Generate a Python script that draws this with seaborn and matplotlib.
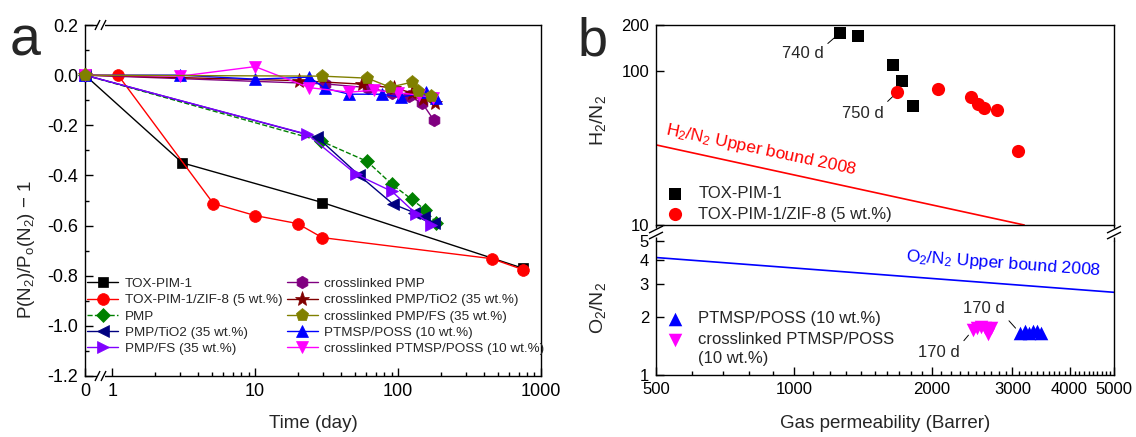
import numpy as np
import pandas as pd
import matplotlib
matplotlib.use("Agg")
import matplotlib.pyplot as plt
import seaborn as sns
from matplotlib.lines import Line2D
from matplotlib.ticker import FixedLocator, FixedFormatter, NullLocator, NullFormatter

# ---------------- data: panel a (normalised N2 permeability vs time) ----------------
t_tox = [0, 3.1, 29.5, 745]
v_tox = [0, -0.35, -0.508, -0.77]
t_zif = [1.1, 5.1, 10, 19.8, 29.5, 452, 750]
v_zif = [0, -0.512, -0.56, -0.592, -0.648, -0.732, -0.776]
t_pmp = [0, 28.9, 60.8, 90.8, 125, 154, 184]
v_pmp = [0, -0.263, -0.344, -0.436, -0.496, -0.536, -0.588]
t_pmp_tio2 = [0, 27.3, 53.5, 92, 129, 152, 178]
v_pmp_tio2 = [0, -0.248, -0.40, -0.514, -0.548, -0.566, -0.588]
t_pmp_fs = [0, 23.2, 51, 90.8, 133, 170]
v_pmp_fs = [0, -0.236, -0.396, -0.464, -0.552, -0.596]
t_xpmp = [0, 31, 62, 90, 119, 147, 178]
v_xpmp = [0, -0.035, -0.05, -0.07, -0.085, -0.11, -0.18]
t_xpmp_tio2 = [0, 20.4, 56, 94, 125, 150, 180]
v_xpmp_tio2 = [0, -0.022, -0.036, -0.052, -0.07, -0.095, -0.11]
t_xpmp_fs = [0, 29.5, 61, 88, 125, 137, 171]
v_xpmp_fs = [0, -0.004, -0.012, -0.048, -0.028, -0.064, -0.084]
t_ptmsp = [0, 3, 10, 24, 30.6, 45.6, 77, 105, 157, 184]
v_ptmsp = [0, 0.0, -0.016, -0.008, -0.052, -0.076, -0.076, -0.088, -0.068, -0.092]
t_xptmsp = [0, 3, 10, 24, 45.6, 68, 100, 140, 175]
v_xptmsp = [0, -0.004, 0.034, -0.05, -0.068, -0.06, -0.07, -0.08, -0.09]

labels_a = ["TOX-PIM-1", "TOX-PIM-1/ZIF-8 (5 wt.%)", "PMP", "PMP/TiO2 (35 wt.%)",
            "PMP/FS (35 wt.%)", "crosslinked PMP", "crosslinked PMP/TiO2 (35 wt.%)",
            "crosslinked PMP/FS (35 wt.%)", "PTMSP/POSS (10 wt.%)",
            "crosslinked PTMSP/POSS (10 wt.%)"]
x_ticks_a = [0, 1, 10, 100, 1000]
x_ticklabels_a = ["0", "1", "10", "100", "1000"]

# ---------------- data: panel b (selectivity vs permeability) ----------------
p_tox = [1259, 1377, 1650, 1726, 1824]
s_tox = [177, 170, 110, 86.5, 59.5]
p_zif = [1683, 2068, 2438, 2528, 2604, 2780, 3090]
s_zif = [73.3, 76.7, 68, 61.3, 57.7, 56, 30.3]
p_ptmsp = [3120, 3190, 3260, 3330, 3400, 3460]
s_ptmsp = [1.65, 1.69, 1.66, 1.70, 1.69, 1.66]
p_xptmsp = [2460, 2510, 2560, 2610, 2650, 2700]
s_xptmsp = [1.72, 1.76, 1.77, 1.76, 1.63, 1.76]
ub_h2_p = [500, 3184]
ub_h2_s = [33.2, 10]
ub_o2_p = [500, 5000]
ub_o2_s = [4.1, 2.7]
labels_b = ["TOX-PIM-1", "TOX-PIM-1/ZIF-8 (5 wt.%)", "PTMSP/POSS (10 wt.%)",
            "crosslinked PTMSP/POSS"]
x_ticks_b = [500, 1000, 2000, 3000, 4000, 5000]

# ---------------- style ----------------
sns.set_theme(style="white")
plt.rcParams["font.family"] = ["Liberation Sans", "DejaVu Sans"]
plt.rcParams["mathtext.fontset"] = "custom"
plt.rcParams["mathtext.rm"] = "Liberation Sans"
plt.rcParams["mathtext.it"] = "Liberation Sans:italic"
plt.rcParams["axes.unicode_minus"] = False
plt.rcParams["axes.edgecolor"] = "black"
plt.rcParams["axes.linewidth"] = 1.0

W, H = 1136, 437
fig = plt.figure(figsize=(W / 100, H / 100), dpi=100)


def rect(l, t, r, b):
    return [l / W, 1 - b / H, (r - l) / W, (b - t) / H]


def fline(x1, y1, x2, y2, color="black", lw=1.0):
    fig.add_artist(Line2D([x1 / W, x2 / W], [1 - y1 / H, 1 - y2 / H],
                          transform=fig.transFigure, color=color, lw=lw,
                          solid_capstyle="butt"))


axa = fig.add_axes(rect(85, 25, 541, 376))
axu = fig.add_axes(rect(656, 25, 1114, 225))
axl = fig.add_axes(rect(656, 241, 1114, 375))

# ---------------- panel a ----------------
G = 0.19


def fwd(t):
    t = np.asarray(t, dtype=float)
    return np.where(t >= 1, np.log10(np.maximum(t, 1)), (t - 1) * G)


def inv(y):
    y = np.asarray(y, dtype=float)
    return np.where(y >= 0, 10 ** np.maximum(y, 0), y / G + 1)


axa.set_xscale("function", functions=(fwd, inv))

series_a = [
    (t_tox, v_tox, "#000000", "s", 7.5, "-", 2),
    (t_zif, v_zif, "#FF0000", "o", 8.5, "-", 2),
    (t_pmp, v_pmp, "#008000", "D", 7, "--", 2),
    (t_pmp_tio2, v_pmp_tio2, "#000080", "<", 9, "-", 2),
    (t_pmp_fs, v_pmp_fs, "#8000FF", ">", 9, "-", 2),
    (t_xpmp, v_xpmp, "#800080", "h", 9, "-", 2),
    (t_xpmp_tio2, v_xpmp_tio2, "#800000", "*", 11, "-", 2),
    (t_xpmp_fs, v_xpmp_fs, "#808000", "p", 9.5, "-", 4),
    (t_ptmsp, v_ptmsp, "#0000FF", "^", 8.5, "-", 3),
    (t_xptmsp, v_xptmsp, "#FF00FF", "v", 9, "-", 3),
]
for (t, v, c, m, ms, ls, z), lab in zip(series_a, labels_a):
    sns.lineplot(x=t, y=v, ax=axa, color=c, marker=m, markersize=ms,
                 markeredgecolor=c, markeredgewidth=0.5, linestyle=ls, lw=1.0,
                 sort=False, estimator=None, label=lab, zorder=z, clip_on=False)

axa.set_xlim(0, 1000)
axa.set_ylim(-1.2, 0.2)
axa.xaxis.set_major_locator(FixedLocator(x_ticks_a))
axa.xaxis.set_major_formatter(FixedFormatter(x_ticklabels_a))
minor_a = [k * 10 ** e for e in range(0, 3) for k in range(2, 10)]
axa.xaxis.set_minor_locator(FixedLocator(minor_a))
axa.xaxis.set_minor_formatter(NullFormatter())
yt = np.round(np.arange(-1.2, 0.21, 0.2), 1)
axa.yaxis.set_major_locator(FixedLocator(yt))
axa.yaxis.set_major_formatter(FixedFormatter([f"{y:.1f}" if y != 0 else "0.0" for y in yt]))
axa.yaxis.set_minor_locator(FixedLocator(np.round(np.arange(-1.1, 0.2, 0.2), 1)))
axa.tick_params(which="both", direction="in", top=False, right=False,
                left=True, bottom=True, width=1, colors="black")
axa.tick_params(which="major", length=6, labelsize=13, pad=5)
axa.tick_params(which="minor", length=3)
for s in axa.spines.values():
    s.set_linewidth(1.0)
    s.set_color("black")

axa.set_xlabel("Time (day)", fontsize=13.5)
axa.xaxis.set_label_coords(0.5, -0.11)
axa.set_ylabel(r"P(N$_2$)/P$_\mathregular{o}$(N$_2$) $-$ 1", fontsize=13.5)
axa.yaxis.set_label_coords(-0.105, 0.36)

leg = axa.legend(loc="upper left", bbox_to_anchor=(0.005, 0.28), ncol=2,
                 frameon=False, fontsize=9.7, handlelength=2.3, handletextpad=0.5,
                 columnspacing=0.3, labelspacing=0.28, borderaxespad=0, borderpad=0)

# break marks panel a (x axis between 0 and 1)
for yy in (25, 376):
    fline(97, yy, 105, yy, color="white", lw=3)
    for xx in (97.5, 103.5):
        fline(xx - 2.5, yy + 5, xx + 2.5, yy - 5, lw=1.0)

# ---------------- panel b ----------------
for ax in (axu, axl):
    ax.set_xscale("log")
    ax.set_yscale("log")
    ax.set_xlim(500, 5000)

sns.lineplot(x=ub_h2_p, y=ub_h2_s, ax=axu, color="#FF0000", lw=1.2,
             sort=False, estimator=None, legend=False)
sns.scatterplot(x=p_tox, y=s_tox, ax=axu, marker="s", color="black", s=70,
                linewidth=0, label=labels_b[0], zorder=3)
sns.scatterplot(x=p_zif, y=s_zif, ax=axu, marker="o", color="#FF0000", s=90,
                linewidth=0, label=labels_b[1], zorder=3)
axu.set_ylim(10, 200)

sns.lineplot(x=ub_o2_p, y=ub_o2_s, ax=axl, color="#0000FF", lw=1.2,
             sort=False, estimator=None, legend=False)
sns.scatterplot(x=p_ptmsp, y=s_ptmsp, ax=axl, marker="^", color="#0000FF", s=95,
                linewidth=0, label=labels_b[2], zorder=3)
sns.scatterplot(x=p_xptmsp, y=s_xptmsp, ax=axl, marker="v", color="#FF00FF", s=95,
                linewidth=0, label=labels_b[3], zorder=3)
axl.set_ylim(1, 5)

# ticks
axu.yaxis.set_major_locator(FixedLocator([10, 100, 200]))
axu.yaxis.set_major_formatter(FixedFormatter(["10", "100", "200"]))
axu.yaxis.set_minor_locator(NullLocator())
axu.xaxis.set_major_locator(NullLocator())
axu.xaxis.set_minor_locator(NullLocator())
axl.yaxis.set_major_locator(FixedLocator([1, 2, 3, 4, 5]))
axl.yaxis.set_major_formatter(FixedFormatter(["1", "2", "3", "4", "5"]))
axl.yaxis.set_minor_locator(NullLocator())
axl.xaxis.set_major_locator(FixedLocator(x_ticks_b))
axl.xaxis.set_major_formatter(FixedFormatter([str(v) for v in x_ticks_b]))
minor_b = [v for v in range(600, 5000, 100) if v not in x_ticks_b]
axl.xaxis.set_minor_locator(FixedLocator(minor_b))
axl.xaxis.set_minor_formatter(NullFormatter())
for ax in (axu, axl):
    ax.tick_params(which="both", direction="in", top=False, right=False,
                   left=True, bottom=True, width=1, colors="black")
    ax.tick_params(which="major", length=6, labelsize=12, pad=5)
    ax.tick_params(which="minor", length=3)
    for s in ax.spines.values():
        s.set_linewidth(1.0)
        s.set_color("black")
axu.tick_params(bottom=False, labelbottom=False)
axl.spines["top"].set_visible(False)

axu.set_ylabel(r"H$_2$/N$_2$", fontsize=14)
axu.yaxis.set_label_coords(-0.105, 0.52)
axl.set_ylabel(r"O$_2$/N$_2$", fontsize=14)
axl.yaxis.set_label_coords(-0.105, 0.5)
axl.set_xlabel("Gas permeability (Barrer)", fontsize=13.5)
axl.xaxis.set_label_coords(0.5, -0.3)

axu.legend(loc="upper left", bbox_to_anchor=(0.02, 0.195), frameon=False,
           fontsize=12, handlelength=1.2, handletextpad=0.8, borderaxespad=0,
           borderpad=0, labelspacing=0.33)
axl.legend(loc="upper left", bbox_to_anchor=(0.02, 0.478), frameon=False,
           fontsize=12, handlelength=1.2, handletextpad=0.8, borderaxespad=0,
           borderpad=0, labelspacing=0.36)
fig.text(698 / W, 1 - 358 / H, "(10 wt.%)", fontsize=12, va="center", ha="left")

axu.text(847, 30.8, r"H$_2$/N$_2$ Upper bound 2008", color="#FF0000", fontsize=12.5,
         rotation=-12, rotation_mode="anchor", ha="center", va="center")
axl.text(2866, 3.82, r"O$_2$/N$_2$ Upper bound 2008", color="#0000FF", fontsize=12.5,
         rotation=-4.2, rotation_mode="anchor", ha="center", va="center")

arrow = dict(arrowstyle="-", color="black", lw=0.7, shrinkA=1, shrinkB=5)
axu.annotate("740 d", xy=(p_tox[0], s_tox[0]), xytext=(1045, 131), fontsize=12,
             ha="center", va="center", arrowprops=dict(arrow, relpos=(1.0, 0.9)))
axu.annotate("750 d", xy=(p_zif[0], s_zif[0]), xytext=(1412, 53.5), fontsize=12,
             ha="center", va="center", arrowprops=dict(arrow, relpos=(1.0, 1.0)))
axl.annotate("170 d", xy=(p_ptmsp[0], s_ptmsp[0]), xytext=(2604, 2.21), fontsize=12,
             ha="center", va="center", arrowprops=dict(arrow, relpos=(1.0, 0.0)))
axl.annotate("170 d", xy=(p_xptmsp[0], s_xptmsp[0]), xytext=(2078, 1.31), fontsize=12,
             ha="center", va="center", arrowprops=dict(arrow, relpos=(1.0, 1.0)))

# break marks panel b (between the two y ranges)
for xx in (656, 1114):
    fline(xx, 225, xx, 228)
    fline(xx, 237, xx, 241)
    for yy in (229.5, 235.5):
        fline(xx - 7, yy + 3.5, xx + 7, yy - 3.5)

fig.text(10 / W, 1 - 55 / H, "a", fontsize=40, va="baseline", ha="left")
fig.text(578 / W, 1 - 56 / H, "b", fontsize=39, va="baseline", ha="left")

fig.savefig("out.png", dpi=100)
